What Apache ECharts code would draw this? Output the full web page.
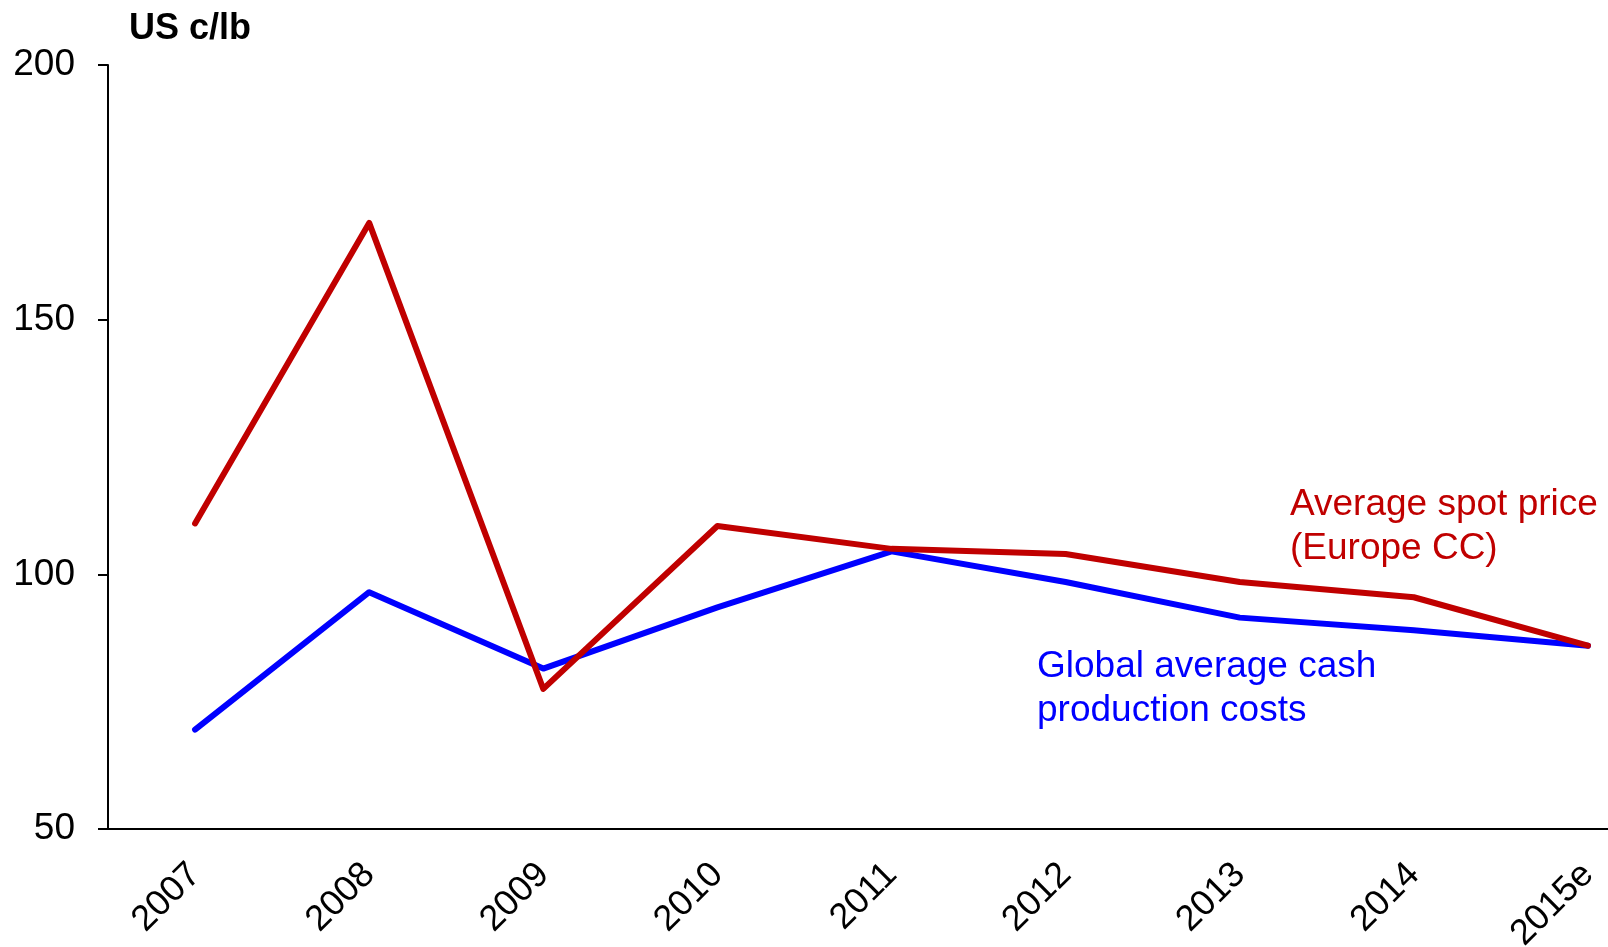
<!DOCTYPE html>
<html>
<head>
<meta charset="utf-8">
<script src="https://cdn.jsdelivr.net/npm/echarts@6/dist/echarts.min.js"></script>
<style>
  html, body { margin: 0; padding: 0; background: #fff; }
  #chart { width: 1608px; height: 947px; }
</style>
</head>
<body>
<div id="chart"></div>
<script>
// Years on the horizontal axis
const years = ['2007', '2008', '2009', '2010', '2011', '2012', '2013', '2014', '2015e'];
// Average spot price, Europe CC (US c/lb)
const spotPrice = [110, 169, 77.5, 109.5, 105, 104, 98.5, 95.5, 86];
// Global average cash production costs (US c/lb)
const cashCosts = [69.5, 96.5, 81.5, 93.5, 104.5, 98.5, 91.5, 89, 86];
// Value-axis ticks
const yTicks = [50, 100, 150, 200];

const FONT = '"Liberation Sans", Arial, sans-serif';
const RED = '#C00000';
const BLUE = '#0000FF';

const chart = echarts.init(document.getElementById('chart'), null, { renderer: 'canvas' });

chart.setOption({
  backgroundColor: '#ffffff',
  animation: false,
  title: {
    text: 'US c/lb',
    left: 124,
    top: 6,
    textStyle: { fontFamily: FONT, fontSize: 36, fontWeight: 'bold', color: '#000' }
  },
  // the last category band runs past the right edge of the canvas
  grid: {
    left: 108, top: 65, width: 1567, bottom: 118,
    containLabel: false,
    outerBoundsMode: 'none'
  },
  xAxis: {
    type: 'category',
    data: years,
    boundaryGap: true,
    axisLine: { lineStyle: { color: '#000', width: 2 } },
    axisTick: { show: false },
    axisLabel: {
      rotate: 45,
      margin: 40,
      color: '#000',
      fontFamily: FONT,
      fontSize: 36,
      interval: 0
    },
    splitLine: { show: false }
  },
  yAxis: {
    type: 'value',
    min: yTicks[0],
    max: yTicks[yTicks.length - 1],
    interval: 50,
    axisLine: { show: true, lineStyle: { color: '#000', width: 2 } },
    axisTick: { show: true, length: 10, lineStyle: { color: '#000', width: 2 } },
    axisLabel: { margin: 33, color: '#000', fontFamily: FONT, fontSize: 37 },
    splitLine: { show: false }
  },
  series: [
    {
      name: 'Average spot price (Europe CC)',
      type: 'line',
      data: spotPrice,
      symbol: 'none',
      lineStyle: { color: RED, width: 6, cap: 'round', join: 'round' },
      z: 3
    },
    {
      name: 'Global average cash production costs',
      type: 'line',
      data: cashCosts,
      symbol: 'none',
      lineStyle: { color: BLUE, width: 6, cap: 'round', join: 'round' },
      z: 2
    }
  ],
  graphic: [
    {
      type: 'text',
      left: 1290,
      top: 483,
      style: {
        text: 'Average spot price\n(Europe CC)',
        fill: RED,
        font: '37px ' + FONT,
        lineHeight: 44
      }
    },
    {
      type: 'text',
      left: 1037,
      top: 645,
      style: {
        text: 'Global average cash\nproduction costs',
        fill: BLUE,
        font: '37px ' + FONT,
        lineHeight: 44
      }
    }
  ]
});
</script>
</body>
</html>
